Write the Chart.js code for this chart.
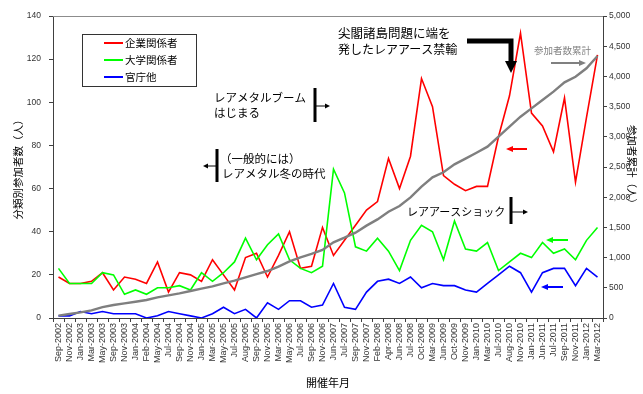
<!DOCTYPE html>
<html>
<head>
<meta charset="utf-8">
<script src="https://cdn.jsdelivr.net/npm/chart.js@4/dist/chart.umd.min.js"></script>
<style>
  html, body { margin: 0; padding: 0; background: #fff; }
  #wrap { width: 643px; height: 394px; }
</style>
</head>
<body>
<div id="wrap"><canvas id="chart" width="643" height="394"></canvas></div>
<script>
// 開催年月 (categories)
const labels = [
  'Sep-2002','Nov-2002','Jan-2003','Mar-2003','May-2003','Sep-2003','Nov-2003','Jan-2004','Feb-2004','May-2004',
  'Jul-2004','Sep-2004','Nov-2004','Jan-2005','Mar-2005','May-2005','Jul-2005','Aug-2005','Sep-2005','Nov-2005',
  'Mar-2006','May-2006','Jul-2006','Sep-2006','Nov-2006','Jun-2007','Jul-2007','Sep-2007','Nov-2007','Feb-2008',
  'Apr-2008','Jun-2008','Jul-2008','Oct-2008','Mar-2009','Jun-2009','Oct-2009','Nov-2009','Jan-2010','Mar-2010',
  'Jul-2010','Aug-2010','Nov-2010','Jan-2011','Jun-2011','Jul-2011','Sep-2011','Nov-2011','Jan-2012','Mar-2012'
];

// 分類別参加者数 (left axis)
const kigyo = [19,16,16,17,21,13,19,18,16,26, 12,21,20,17,27,20,13,28,30,19,
               29,40,23,24,42,29,36,43,50,54, 74,60,75,111,98,66,62,59,61,61,
               84,103,132,95,89,77,102,63,93,122];
const daigaku = [23,16,16,16,21,20,11,13,11,14, 14,15,13,21,17,21,26,37,27,34,
                 39,27,23,21,24,69,58,33,31,37, 31,22,36,43,40,27,45,32,31,35,
                 22,26,30,28,35,30,32,27,36,42];
const kancho = [1,1,3,2,3,2,2,2,0,1, 3,2,1,0,2,5,2,4,0,7,
                4,8,8,5,6,16,5,4,12,17, 18,16,19,14,16,15,15,13,12,16,
                20,24,21,12,21,23,23,15,23,19];

// 参加者数累計 (right axis)
const ruikei = [39,66,94,127,180,215,243,270,298,342, 375,408,447,486,524,574,618,673,728,778,
                850,938,1004,1060,1126,1253,1330,1413,1529,1633, 1760,1854,1998,2174,2329,2412,2544,2638,2737,2837,
                3002,3168,3333,3471,3609,3747,3902,3995,4134,4338];

const leftTicks = { min: 0, max: 140, step: 20 };
const rightTicks = { min: 0, max: 5000, step: 500 };

const JP = '"Noto Sans CJK JP", "Noto Sans", sans-serif';
const LAT = '"Liberation Sans", Arial, sans-serif';
Chart.defaults.font.family = LAT;

// arrow with filled head at (x2, y2)
function arrow(ctx, x1, y1, x2, y2, color, lw, hl, hw) {
  const a = Math.atan2(y2 - y1, x2 - x1);
  ctx.save();
  ctx.strokeStyle = color;
  ctx.fillStyle = color;
  ctx.lineWidth = lw;
  ctx.beginPath();
  ctx.moveTo(x1, y1);
  ctx.lineTo(x2 - Math.cos(a) * hl * 0.8, y2 - Math.sin(a) * hl * 0.8);
  ctx.stroke();
  ctx.beginPath();
  ctx.moveTo(x2, y2);
  ctx.lineTo(x2 - Math.cos(a) * hl - Math.sin(a) * hw, y2 - Math.sin(a) * hl + Math.cos(a) * hw);
  ctx.lineTo(x2 - Math.cos(a) * hl + Math.sin(a) * hw, y2 - Math.sin(a) * hl - Math.cos(a) * hw);
  ctx.closePath();
  ctx.fill();
  ctx.restore();
}

function bar(ctx, x, y1, y2) {
  ctx.save();
  ctx.fillStyle = '#000';
  ctx.fillRect(x - 1.5, y1, 3, y2 - y1);
  ctx.restore();
}

function text(ctx, str, x, y, size, color) {
  ctx.save();
  ctx.font = size + 'px ' + JP;
  ctx.fillStyle = color || '#000';
  ctx.textAlign = 'left';
  ctx.textBaseline = 'middle';
  ctx.fillText(str, x, y);
  ctx.restore();
}

const notes = {
  id: 'notes',
  beforeDatasetsDraw(chart) {
    const { ctx, chartArea } = chart;
    // gray top edge of the plot
    ctx.save();
    ctx.strokeStyle = '#8c8c8c';
    ctx.lineWidth = 1;
    ctx.beginPath();
    ctx.moveTo(chartArea.left, chartArea.top + 0.5);
    ctx.lineTo(chartArea.right, chartArea.top + 0.5);
    ctx.stroke();
    ctx.restore();
  },
  afterDraw(chart) {
    const ctx = chart.ctx;

    // legend box
    ctx.save();
    ctx.fillStyle = '#fff';
    ctx.fillRect(82, 34, 114, 52);
    ctx.strokeStyle = '#333';
    ctx.lineWidth = 1;
    ctx.strokeRect(82.5, 34.5, 114, 52);
    const items = [['企業関係者', '#ff0000'], ['大学関係者', '#00ff00'], ['官庁他', '#0000ff']];
    items.forEach((it, i) => {
      const y = 43 + i * 17;
      ctx.strokeStyle = it[1];
      ctx.lineWidth = 2;
      ctx.beginPath();
      ctx.moveTo(104, y);
      ctx.lineTo(123, y);
      ctx.stroke();
      text(ctx, it[0], 125, y, 10.5, '#000');
    });
    ctx.restore();

    // レアメタルブームはじまる
    text(ctx, 'レアメタルブーム', 214, 98, 11.5);
    text(ctx, 'はじまる', 214, 113, 11.5);
    bar(ctx, 315, 88, 122);
    arrow(ctx, 315, 106, 330, 106, '#000', 1, 5, 2.5);

    // 一般的にはレアメタル冬の時代
    text(ctx, '（一般的には）', 220, 159, 11.5);
    text(ctx, 'レアメタル冬の時代', 222, 174, 11.5);
    bar(ctx, 217, 149, 182);
    arrow(ctx, 217, 166, 203, 166, '#000', 1, 5, 2.5);

    // レアアースショック
    text(ctx, 'レアアースショック', 407, 212, 11);
    bar(ctx, 511, 197, 224);
    arrow(ctx, 511, 212, 528, 212, '#000', 1, 5, 2.5);

    // 尖閣諸島問題
    text(ctx, '尖閣諸島問題に端を', 338, 33, 12.5);
    text(ctx, '発したレアアース禁輸', 338, 49, 12);
    ctx.save();
    ctx.strokeStyle = '#000';
    ctx.lineWidth = 5;
    ctx.lineJoin = 'miter';
    ctx.beginPath();
    ctx.moveTo(467, 41);
    ctx.lineTo(511, 41);
    ctx.lineTo(511, 63);
    ctx.stroke();
    ctx.fillStyle = '#000';
    ctx.beginPath();
    ctx.moveTo(505, 61);
    ctx.lineTo(517, 61);
    ctx.lineTo(511, 73);
    ctx.closePath();
    ctx.fill();
    ctx.restore();

    // 参加者数累計
    text(ctx, '参加者数累計', 534, 50, 9.5, '#808080');
    arrow(ctx, 551, 63, 586, 63, '#808080', 2, 7, 3);

    // series arrows
    arrow(ctx, 527, 149, 506, 149, '#ff0000', 2, 7, 3);
    arrow(ctx, 568, 240, 546, 240, '#00ff00', 2, 7, 3);
    arrow(ctx, 563, 287, 541, 287, '#0000ff', 2, 7, 3);
  }
};

const line = (label, data, color, width, axis, order) => ({
  label, data,
  borderColor: color,
  backgroundColor: color,
  borderWidth: width,
  pointRadius: 0,
  tension: 0,
  fill: false,
  yAxisID: axis,
  order
});

new Chart(document.getElementById('chart'), {
  type: 'line',
  data: {
    labels,
    datasets: [
      line('企業関係者', kigyo, '#ff0000', 1.6, 'y', 4),
      line('大学関係者', daigaku, '#00ff00', 1.6, 'y', 3),
      line('官庁他', kancho, '#0000ff', 1.6, 'y', 2),
      line('参加者数累計', ruikei, '#7f7f7f', 2.4, 'y2', 1)
    ]
  },
  options: {
    responsive: false,
    devicePixelRatio: 1,
    animation: false,
    layout: { padding: { top: 16, left: 0, right: 0, bottom: 0 } },
    plugins: { legend: { display: false }, tooltip: { enabled: false } },
    scales: {
      x: {
        offset: true,
        grid: { display: true, drawOnChartArea: false, offset: true, tickLength: 4, color: '#404040' },
        border: { display: true, color: '#404040' },
        ticks: { autoSkip: false, maxRotation: 90, minRotation: 90, padding: 1, color: '#333', font: { size: 9 } },
        title: { display: true, text: '開催年月', color: '#000', font: { family: JP, size: 11 }, padding: { top: 0, bottom: 5 } },
        afterFit(s) { s.height = 76; }
      },
      y: {
        position: 'left',
        min: leftTicks.min, max: leftTicks.max,
        grid: { display: true, drawOnChartArea: false, tickLength: 4, color: '#404040' },
        border: { display: true, color: '#404040' },
        ticks: { stepSize: leftTicks.step, padding: 8, color: '#333', font: { size: 8.5 } },
        title: { display: true, text: '分類別参加者数（人）', color: '#000', font: { family: JP, size: 10.5 }, padding: { top: 12, bottom: 0 } },
        afterFit(s) { s.width = 53; }
      },
      y2: {
        position: 'right',
        min: rightTicks.min, max: rightTicks.max,
        grid: { display: true, drawOnChartArea: false, tickLength: 4, color: '#404040' },
        border: { display: true, color: '#404040' },
        ticks: { stepSize: rightTicks.step, padding: 2, color: '#333', font: { size: 8.5 },
                 callback: v => v.toLocaleString('en-US') },
        title: { display: true, text: '参加者累計（人）', color: '#000', font: { family: JP, size: 10.5 }, padding: { top: 5, bottom: 0 } },
        afterFit(s) { s.width = 40; }
      }
    }
  },
  plugins: [notes]
});
</script>
</body>
</html>
